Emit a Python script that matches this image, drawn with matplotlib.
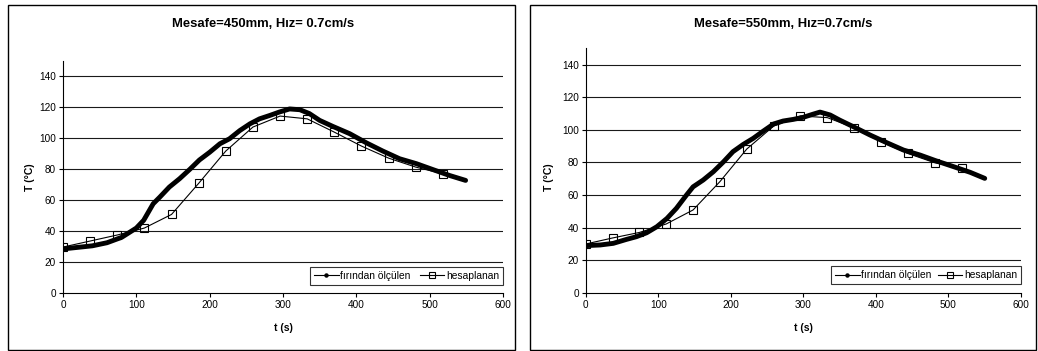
import matplotlib
matplotlib.use('Agg')
import matplotlib.pyplot as plt
from matplotlib.lines import Line2D
from matplotlib.patches import Rectangle

plt.rcParams['font.family'] = ['Liberation Sans', 'DejaVu Sans']

# Hesaplanan (kare isaretli) noktalar - iki grafik icin ortak zamanlar
t_hesap = [0, 37, 74, 111, 148, 185, 222, 259, 296, 333, 370, 407, 444, 481, 518]
T_hesap_450 = [29.7, 33.6, 37.5, 42.0, 50.8, 70.9, 91.8, 107.3, 114.4, 112.6, 104.0, 95.0, 87.2, 81.4, 77.1]
T_hesap_550 = [29.9, 33.6, 37.0, 42.2, 50.8, 68.2, 88.2, 102.3, 108.5, 107.5, 101.3, 92.7, 85.5, 79.8, 76.7]

# Firindan olculen (kalin egri)
t_olc_450 = [0, 20, 40, 60, 80, 100, 110, 123, 132, 145, 159, 173, 186, 200, 214, 227, 241,
             255, 268, 282, 295, 309, 323, 336, 350, 368, 391, 414, 436, 459, 482, 505, 527, 549]
T_olc_450 = [28.5, 29.5, 30.5, 32.5, 36.0, 42.0, 47.0, 57.7, 62.0, 68.5, 73.9, 80.0, 86.0, 91.0,
             96.5, 99.7, 105.0, 109.4, 112.6, 114.8, 117.0, 119.0, 118.5, 116.0, 111.6, 107.7,
             103.0, 97.0, 91.8, 86.8, 83.6, 79.7, 76.0, 72.8]

t_olc_550 = [0, 20, 38, 56, 70, 84, 98, 112, 125, 139, 148, 162, 176, 190, 203, 217, 231, 245,
             259, 272, 286, 300, 314, 323, 337, 350, 369, 392, 415, 438, 461, 484, 507, 530, 550]
T_olc_550 = [28.9, 29.3, 30.3, 32.7, 34.4, 36.8, 40.5, 45.6, 51.8, 60.0, 65.0, 69.2, 74.3, 80.4,
             86.6, 91.0, 94.8, 99.3, 103.6, 105.4, 106.4, 107.7, 109.7, 110.9, 109.1, 106.0,
             101.9, 96.8, 92.1, 87.6, 84.5, 80.8, 77.4, 73.9, 70.2]

basliklar = ['Mesafe=450mm, Hız= 0.7cm/s', 'Mesafe=550mm, Hız=0.7cm/s']
etiketler = ['fırından ölçülen', 'hesaplanan']

W, H = 1038, 351
fig = plt.figure(figsize=(W / 100, H / 100), dpi=100)

# panel cerceveleri (piksel)
for x0, x1 in [(7.5, 514.5), (530, 1036)]:
    fig.patches.append(Rectangle((x0 / W, 1.5 / H), (x1 - x0) / W, 345 / H,
                                 transform=fig.transFigure, fill=False,
                                 edgecolor='black', lw=1.0))

# eksen konumlari: sol, alt, genislik, yukseklik (piksel)
konumlar = [(63, 293, 440, 232), (585.7, 292.7, 435.3, 244.3)]
baslik_xy = [(263, 24), (783, 24)]
ylabel_x = [30, 549]
xlabel_xy = [(283, 328), (803, 328)]

veriler = [(t_olc_450, T_olc_450, T_hesap_450), (t_olc_550, T_olc_550, T_hesap_550)]

for i, (t_olc, T_olc, T_hes) in enumerate(veriler):
    px, py, pw, ph = konumlar[i]
    ax = fig.add_axes([px / W, (H - py) / H, pw / W, ph / H])
    ax.set_xlim(0, 600)
    ax.set_ylim(0, 150)
    ax.set_xticks(range(0, 601, 100))
    ax.set_yticks(range(0, 141, 20))
    for y in range(20, 141, 20):
        ax.axhline(y, color='0.1', lw=0.8, zorder=0)
    for s in ['top', 'right']:
        ax.spines[s].set_visible(False)
    for s in ['left', 'bottom']:
        ax.spines[s].set_linewidth(0.8)
    ax.tick_params(labelsize=7.2, length=3, width=0.8, pad=2)

    ax.plot(t_hesap, T_hes, color='black', lw=0.8, marker='s', ms=6.2,
            mfc='none', mec='black', mew=0.8, zorder=3)
    ax.plot(t_olc, T_olc, color='black', lw=3.5, solid_capstyle='round', zorder=4)

    fig.text(baslik_xy[i][0] / W, 1 - baslik_xy[i][1] / H, basliklar[i],
             ha='center', va='center', fontsize=9.4, fontweight='bold')
    fig.text(ylabel_x[i] / W, 1 - 177 / H, 'T (°C)', rotation=90,
             ha='center', va='center', fontsize=7.5, fontweight='bold')
    fig.text(xlabel_xy[i][0] / W, 1 - xlabel_xy[i][1] / H, 't (s)',
             ha='center', va='center', fontsize=7.5, fontweight='bold')

    tutamak = [Line2D([], [], color='black', lw=0.8, marker='o', ms=2.2),
               Line2D([], [], color='black', lw=0.8, marker='s', ms=5, mfc='none', mew=0.8)]
    lx = 0.561 if i == 0 else 0.5635
    lh = 0.1466 if i == 0 else 0.143
    leg = ax.legend(tutamak, etiketler, ncol=2, fontsize=7.4,
                    bbox_to_anchor=(lx, 0, 1 - lx, lh), loc='center', mode='expand',
                    frameon=True, fancybox=False, handlelength=2.4, handletextpad=0.15,
                    columnspacing=0.5, borderaxespad=0, borderpad=0.4)
    leg.get_frame().set_edgecolor('black')
    leg.get_frame().set_linewidth(0.8)
    leg.set_zorder(5)

fig.savefig('out.png', dpi=100)
